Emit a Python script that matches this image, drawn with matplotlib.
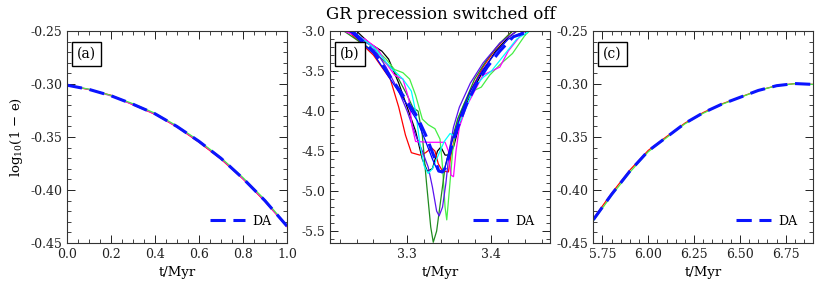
import matplotlib
matplotlib.use("Agg")
import matplotlib.pyplot as plt
from matplotlib.ticker import MultipleLocator, FormatStrFormatter

plt.rcParams['font.family'] = ['DejaVu Serif']
plt.rcParams['mathtext.fontset'] = 'dejavuserif'

# ---- panel (a): start of the run ----
ta = [0.0, 0.1, 0.2, 0.3, 0.4, 0.5, 0.6, 0.7, 0.8, 0.9, 1.0]
da_a = [-0.301, -0.305, -0.311, -0.319, -0.328, -0.340, -0.354, -0.370, -0.389, -0.410, -0.434]
red_a = [-0.301, -0.3052, -0.3105, -0.3195, -0.3285, -0.3405, -0.3548, -0.3708, -0.3895, -0.4108, -0.4342]
grn_a = [-0.301, -0.3048, -0.3108, -0.3185, -0.3275, -0.3395, -0.3535, -0.3695, -0.3882, -0.4092, -0.4335]
mag_a = [-0.301, -0.3050, -0.3112, -0.3192, -0.3282, -0.3402, -0.3542, -0.3702, -0.3892, -0.4102, -0.4345]

# ---- panel (c): end of the run ----
tc = [5.70, 5.80, 5.90, 6.00, 6.10, 6.20, 6.30, 6.40, 6.50, 6.60, 6.70, 6.80, 6.90]
da_c = [-0.428, -0.404, -0.382, -0.363, -0.350, -0.337, -0.327, -0.319, -0.3125, -0.306, -0.3015, -0.2995, -0.3003]
red_c = [-0.427, -0.403, -0.381, -0.3625, -0.3495, -0.3368, -0.3268, -0.3188, -0.3124, -0.3060, -0.3015, -0.2995, -0.3003]
grn_c = [-0.429, -0.405, -0.383, -0.3638, -0.3505, -0.3375, -0.3275, -0.3192, -0.3126, -0.3061, -0.3016, -0.2996, -0.3003]

# ---- panel (b): eccentricity maximum ----
t_k = [3.24, 3.255, 3.27, 3.278, 3.29, 3.30, 3.31, 3.318, 3.324, 3.33, 3.336, 3.34, 3.345, 3.35, 3.355, 3.36, 3.367, 3.375, 3.39, 3.405, 3.42, 3.43]
y_k = [-3.0, -3.15, -3.25, -3.35, -3.65, -3.95, -4.25, -4.6, -4.75, -4.72, -4.5, -4.45, -4.55, -4.55, -4.45, -4.25, -4.0, -3.8, -3.5, -3.25, -3.08, -3.0]

t_r = [3.23, 3.26, 3.28, 3.29, 3.298, 3.305, 3.315, 3.322, 3.329, 3.333, 3.337, 3.342, 3.349, 3.352, 3.357, 3.365, 3.375, 3.39, 3.405, 3.42, 3.425]
y_r = [-3.0, -3.3, -3.6, -3.95, -4.3, -4.52, -4.55, -4.52, -4.46, -4.5, -4.66, -4.75, -4.76, -4.55, -4.3, -4.0, -3.75, -3.45, -3.22, -3.05, -3.0]

t_g = [3.23, 3.255, 3.275, 3.285, 3.295, 3.303, 3.31, 3.318, 3.325, 3.333, 3.339, 3.342, 3.345, 3.347, 3.35, 3.354, 3.36, 3.368, 3.378, 3.388, 3.398, 3.41, 3.425, 3.44, 3.445]
y_g = [-3.0, -3.15, -3.35, -3.48, -3.52, -3.6, -3.8, -4.1, -4.17, -4.22, -4.35, -4.7, -5.2, -5.36, -5.0, -4.5, -4.1, -3.9, -3.75, -3.7, -3.55, -3.42, -3.28, -3.05, -3.0]

t_dg = [3.225, 3.26, 3.285, 3.30, 3.307, 3.313, 3.318, 3.323, 3.328, 3.331, 3.335, 3.340, 3.345, 3.352, 3.36, 3.37, 3.38, 3.395, 3.41, 3.425]
y_dg = [-3.0, -3.25, -3.5, -3.8, -3.96, -4.0, -4.3, -4.9, -5.45, -5.64, -5.5, -5.1, -4.7, -4.4, -4.1, -3.85, -3.6, -3.35, -3.15, -3.0]

t_v = [3.23, 3.26, 3.275, 3.29, 3.30, 3.31, 3.318, 3.325, 3.330, 3.335, 3.338, 3.342, 3.346, 3.35, 3.355, 3.362, 3.375, 3.39, 3.41, 3.43]
y_v = [-3.0, -3.2, -3.45, -3.75, -4.0, -4.3, -4.5, -4.7, -4.95, -5.25, -5.31, -5.2, -4.9, -4.5, -4.2, -3.95, -3.65, -3.4, -3.15, -3.0]

t_m = [3.225, 3.25, 3.265, 3.275, 3.285, 3.295, 3.302, 3.306, 3.31, 3.325, 3.345, 3.349, 3.352, 3.355, 3.358, 3.362, 3.37, 3.38, 3.39, 3.40, 3.41, 3.42, 3.435, 3.44]
y_m = [-3.0, -3.1, -3.22, -3.4, -3.55, -3.6, -3.85, -4.2, -4.38, -4.39, -4.39, -4.5, -4.8, -4.82, -4.5, -4.2, -3.95, -3.75, -3.55, -3.5, -3.45, -3.25, -3.05, -3.0]

t_c = [3.235, 3.26, 3.28, 3.295, 3.305, 3.31, 3.315, 3.32, 3.325, 3.33, 3.337, 3.344, 3.351, 3.357, 3.362, 3.37, 3.38, 3.39, 3.40, 3.415, 3.43, 3.445]
y_c = [-3.0, -3.2, -3.45, -3.6, -3.75, -4.0, -4.4, -4.68, -4.78, -4.72, -4.55, -4.38, -4.28, -4.32, -4.15, -3.95, -3.7, -3.58, -3.5, -3.3, -3.1, -3.0]

t_b = [3.232, 3.26, 3.28, 3.30, 3.312, 3.322, 3.33, 3.336, 3.341, 3.345, 3.35, 3.357, 3.365, 3.375, 3.39, 3.405, 3.42, 3.44]
y_b = [-3.0, -3.28, -3.6, -3.92, -4.12, -4.38, -4.6, -4.74, -4.77, -4.7, -4.5, -4.25, -4.0, -3.75, -3.48, -3.27, -3.1, -3.0]

t_da = [3.235, 3.26, 3.28, 3.30, 3.312, 3.322, 3.332, 3.3375, 3.342, 3.346, 3.355, 3.362, 3.371, 3.383, 3.395, 3.41, 3.426, 3.446]
y_da = [-3.0, -3.25, -3.57, -3.88, -4.07, -4.3, -4.57, -4.75, -4.76, -4.70, -4.36, -4.15, -3.9, -3.65, -3.45, -3.25, -3.07, -3.0]

DA_BLUE = '#0a14ff'


def style_axes(ax, xmaj, xmin, ymaj, ymin):
    ax.xaxis.set_major_locator(MultipleLocator(xmaj))
    ax.xaxis.set_minor_locator(MultipleLocator(xmin))
    ax.yaxis.set_major_locator(MultipleLocator(ymaj))
    ax.yaxis.set_minor_locator(MultipleLocator(ymin))
    ax.tick_params(which='both', direction='in', top=True, right=True, labelsize=9, colors='#222222')
    ax.tick_params(which='major', length=6, width=0.7)
    ax.tick_params(which='minor', length=3, width=0.6)
    for s in ax.spines.values():
        s.set_linewidth(0.8)
        s.set_color('#333333')
    ax.set_xlabel('t/Myr', fontsize=9.5)


def panel_tag(ax, tag):
    ax.text(0.045, 0.925, tag, transform=ax.transAxes, fontsize=10, va='top', ha='left',
            bbox=dict(boxstyle='square,pad=0.35', fc='white', ec='black', lw=1.0))


def da_legend(ax, line):
    ax.legend([line], ['DA'], loc='lower right', frameon=False, fontsize=9,
              handlelength=2.8, handletextpad=0.6, borderaxespad=0.5,
              bbox_to_anchor=(0.98, 0.02))


fig = plt.figure(figsize=(8.22, 2.88), dpi=100)
w, h, bot = 0.2676, 0.736, 0.156
ax_a = fig.add_axes([0.0815, bot, w, h])
ax_b = fig.add_axes([0.402, bot, w, h])
ax_c = fig.add_axes([0.7218, bot, w, h])

# (a)
ax_a.plot(ta, red_a, color='red', lw=0.9)
ax_a.plot(ta, mag_a, color='magenta', lw=0.9)
ax_a.plot(ta, grn_a, color='#44ee44', lw=0.9)
la, = ax_a.plot(ta, da_a, color=DA_BLUE, lw=2.2, ls=(0, (5, 2.5)))
ax_a.set_xlim(0.0, 1.0)
ax_a.set_ylim(-0.45, -0.25)
style_axes(ax_a, 0.2, 0.05, 0.05, 0.01)
ax_a.xaxis.set_major_formatter(FormatStrFormatter('%.1f'))
ax_a.yaxis.set_major_formatter(FormatStrFormatter('%.2f'))
ax_a.set_ylabel('log$_{10}$(1 − e)', fontsize=9.5)
panel_tag(ax_a, '(a)')
da_legend(ax_a, la)

# (b)
ax_b.plot(t_k, y_k, color='black', lw=0.9)
ax_b.plot(t_r, y_r, color='red', lw=0.9)
ax_b.plot(t_g, y_g, color='#44ee44', lw=0.9)
ax_b.plot(t_dg, y_dg, color='#1f8a1f', lw=0.9)
ax_b.plot(t_v, y_v, color='#5a12f0', lw=0.9)
ax_b.plot(t_m, y_m, color='magenta', lw=0.9)
ax_b.plot(t_c, y_c, color='cyan', lw=0.9)
ax_b.plot(t_b, y_b, color='blue', lw=0.9)
lb, = ax_b.plot(t_da, y_da, color=DA_BLUE, lw=2.2, ls=(0, (5, 2.5)))
ax_b.set_xlim(3.209, 3.47)
ax_b.set_ylim(-5.65, -3.0)
style_axes(ax_b, 0.1, 0.02, 0.5, 0.1)
ax_b.xaxis.set_major_formatter(FormatStrFormatter('%.1f'))
ax_b.yaxis.set_major_formatter(FormatStrFormatter('%.1f'))
ax_b.set_title('GR precession switched off', fontsize=12, pad=9)
panel_tag(ax_b, '(b)')
da_legend(ax_b, lb)

# (c)
ax_c.plot(tc, red_c, color='red', lw=0.9)
ax_c.plot(tc, grn_c, color='#44ee44', lw=0.9)
lc, = ax_c.plot(tc, da_c, color=DA_BLUE, lw=2.2, ls=(0, (5, 2.5)))
ax_c.set_xlim(5.70, 6.90)
ax_c.set_ylim(-0.45, -0.25)
style_axes(ax_c, 0.25, 0.05, 0.05, 0.01)
ax_c.xaxis.set_major_formatter(FormatStrFormatter('%.2f'))
ax_c.yaxis.set_major_formatter(FormatStrFormatter('%.2f'))
panel_tag(ax_c, '(c)')
da_legend(ax_c, lc)

fig.savefig('out.png', dpi=100)
